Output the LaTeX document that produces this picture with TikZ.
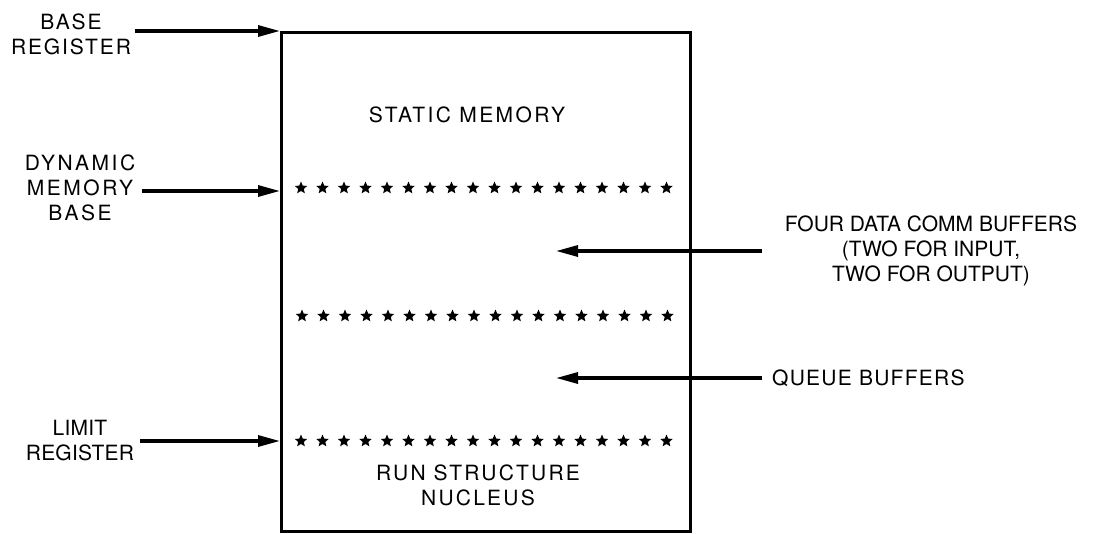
\documentclass[tikz,border=0pt]{standalone}
\usepackage{fontspec}
\setmainfont{TeX Gyre Heros}
\usetikzlibrary{shapes.geometric,arrows.meta}
\begin{document}
\begin{tikzpicture}[x=1pt,y=-1pt,
  lbl/.style={font=\fontsize{21}{25}\selectfont\addfontfeature{LetterSpace=#1}, align=center, inner sep=0pt},
  lbl/.default=10,
  arr/.style={line width=3.2pt, -{Triangle[length=22pt,width=11pt]}},
  starmark/.style={star, star points=5, star point ratio=2.2, fill=black, draw=none, minimum size=13pt, inner sep=0pt},
  membox/.style={draw, line width=3.4pt, minimum width=409pt, minimum height=499pt, inner sep=0pt, anchor=north west}
]
\useasboundingbox (0,0) rectangle (1095,533);
\node[membox] (mem) at (280,31) {};
% labels
\node[lbl=9] (base) at (71,34) {BASE\\REGISTER};
\node[lbl=12] (dyn) at (80,188) {DYNAMIC\\MEMORY\\BASE};
\node[lbl=1] (lim) at (80,441) {LIMIT\\REGISTER};
\node[lbl=11.5] (stat) at (467,115) {STATIC MEMORY};
\node[lbl=10.5] (run) at (478,485) {RUN STRUCTURE\\NUCLEUS};
\node[lbl=0] (fdc) at (931,251) {FOUR DATA COMM BUFFERS\\(TWO FOR INPUT,\\TWO FOR OUTPUT)};
\node[lbl=6, anchor=west] (que) at (772,378) {QUEUE BUFFERS};
% stars
\foreach \i in {0,...,17} {
  \node[starmark] (sa\i) at ({301+\i*21.5},188) {};
  \node[starmark] (sb\i) at ({302+\i*21.5},316) {};
  \node[starmark] (sc\i) at ({301+\i*21.5},441) {};
}
% arrows
\coordinate (bs) at (135,31);
\coordinate (ds) at (142,191);
\coordinate (ls) at (140,441);
\draw[arr] (bs) -- (bs -| mem.west);
\draw[arr] (ds) -- (ds -| mem.west);
\draw[arr] (ls) -- (ls -| mem.west);
\coordinate (fs) at (762,251);
\coordinate (fe) at (556,251);
\coordinate (qs) at (762,378);
\coordinate (qe) at (556,378);
\draw[arr] (fs) -- (fe);
\draw[arr] (qs) -- (qe);
\end{tikzpicture}
\end{document}
